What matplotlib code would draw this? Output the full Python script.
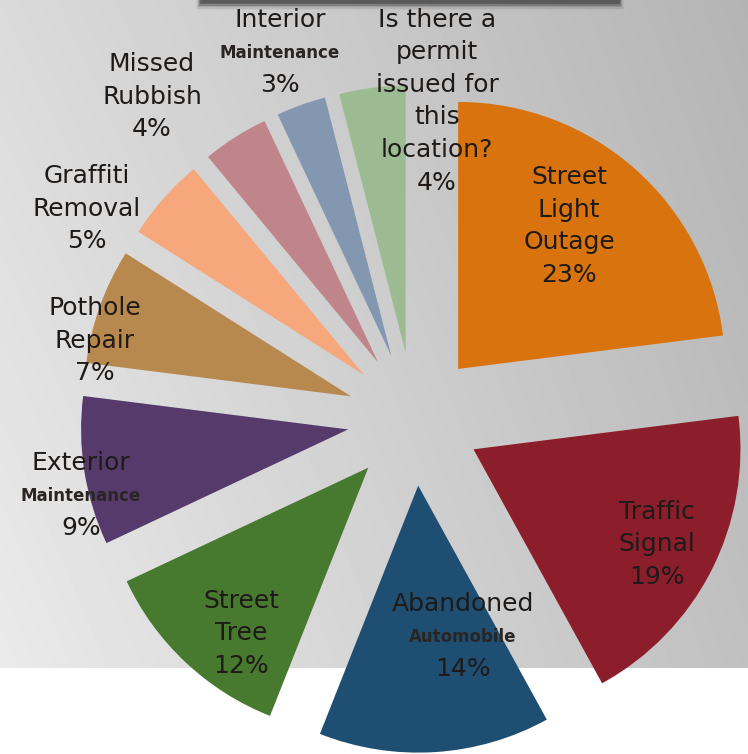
import matplotlib
matplotlib.use("Agg")
import matplotlib.pyplot as plt
import numpy as np
from matplotlib.patches import Rectangle

# Donnees du graphique (sens horaire depuis midi)
categories = ["Street\nLight\nOutage", "Traffic\nSignal", "Abandoned\nAutomobile",
              "Street\nTree", "Exterior\nMaintenance", "Pothole\nRepair",
              "Graffiti\nRemoval", "Missed\nRubbish", "Interior\nMaintenance",
              "Is there a\npermit\nissued for\nthis\nlocation?"]
shares = [23, 19, 14, 12, 9, 7, 5, 4, 3, 4]
colors = ["#d9730d", "#8c1e2c", "#1f4e73", "#47792f", "#553a6b",
          "#b8894f", "#f6a77c", "#c0858a", "#8497b0", "#9dbb92"]

# position (pixels) du centre de la premiere ligne de chaque etiquette
label_pos = [(569, 177), (657, 512), (463, 604), (241, 601), (81, 463),
             (95, 308), (87, 176), (152, 64), (280, 20), (437, 20)]

W, H = 748, 754
cx, cy, R = 414, 419, 267  # centre du camembert et rayon en pixels


def px(x, y):
    return (x - cx) / R, (cy - y) / R


fig = plt.figure(figsize=(W / 100, H / 100), dpi=100)
fig.patch.set_facecolor("white")
ax = fig.add_axes([0, 0, 1, 1])

# Fond degrade gris
gx = np.linspace(0, 1, 200)
gy = np.linspace(0, 1, 200)
X, Y = np.meshgrid(gx, gy)
tl, tr, bl, br = 218, 180, 234, 192
grad = (tl * (1 - X) * (1 - Y) + tr * X * (1 - Y) + bl * (1 - X) * Y + br * X * Y) / 255
x0, y0 = px(0, 0)
x1, y1 = px(W, 668)
ax.imshow(grad, cmap="gray", vmin=0, vmax=1, extent=[x0, x1, y1, y0],
          aspect="auto", zorder=0, interpolation="bilinear")

# Bandeau du titre coupe en haut
for k, a in enumerate([0.25, 0.18, 0.12, 0.07, 0.03]):
    bx, by = px(200 - k, 4 + 1.5 * k)
    ex, ey = px(620 + k, 0)
    ax.add_patch(Rectangle((bx, by), ex - bx, ey - by, color="black", alpha=a,
                           lw=0, zorder=1))
bx, by = px(203, 3)
ex, ey = px(617, 0)
ax.add_patch(Rectangle((bx, by), ex - bx, ey - by, color="#5a5a5a", lw=0, zorder=2))

ax.pie(shares, colors=colors, startangle=90, counterclock=False,
       explode=[0.25] * len(shares), radius=1, center=(0, 0),
       wedgeprops=dict(linewidth=0, zorder=3))

# Etiquettes
small_words = ["Maintenance", "Automobile"]
step = 32.5
for name, v, (lx, ly) in zip(categories, shares, label_pos):
    lines = name.split("\n") + [str(v) + "%"]
    for i, line in enumerate(lines):
        small = line in small_words
        tx, ty = px(lx, ly + i * step)
        ax.text(tx, ty, line, ha="center", va="center",
                fontsize=12 if small else 18,
                fontweight="bold" if small else "normal",
                color="#2a2522" if small else "#1e1a18", zorder=5)

ax.set_xlim(-cx / R, (W - cx) / R)
ax.set_ylim(-(H - cy) / R, cy / R)
ax.set_aspect("auto")
ax.axis(False)

plt.savefig("out.png", dpi=100)
